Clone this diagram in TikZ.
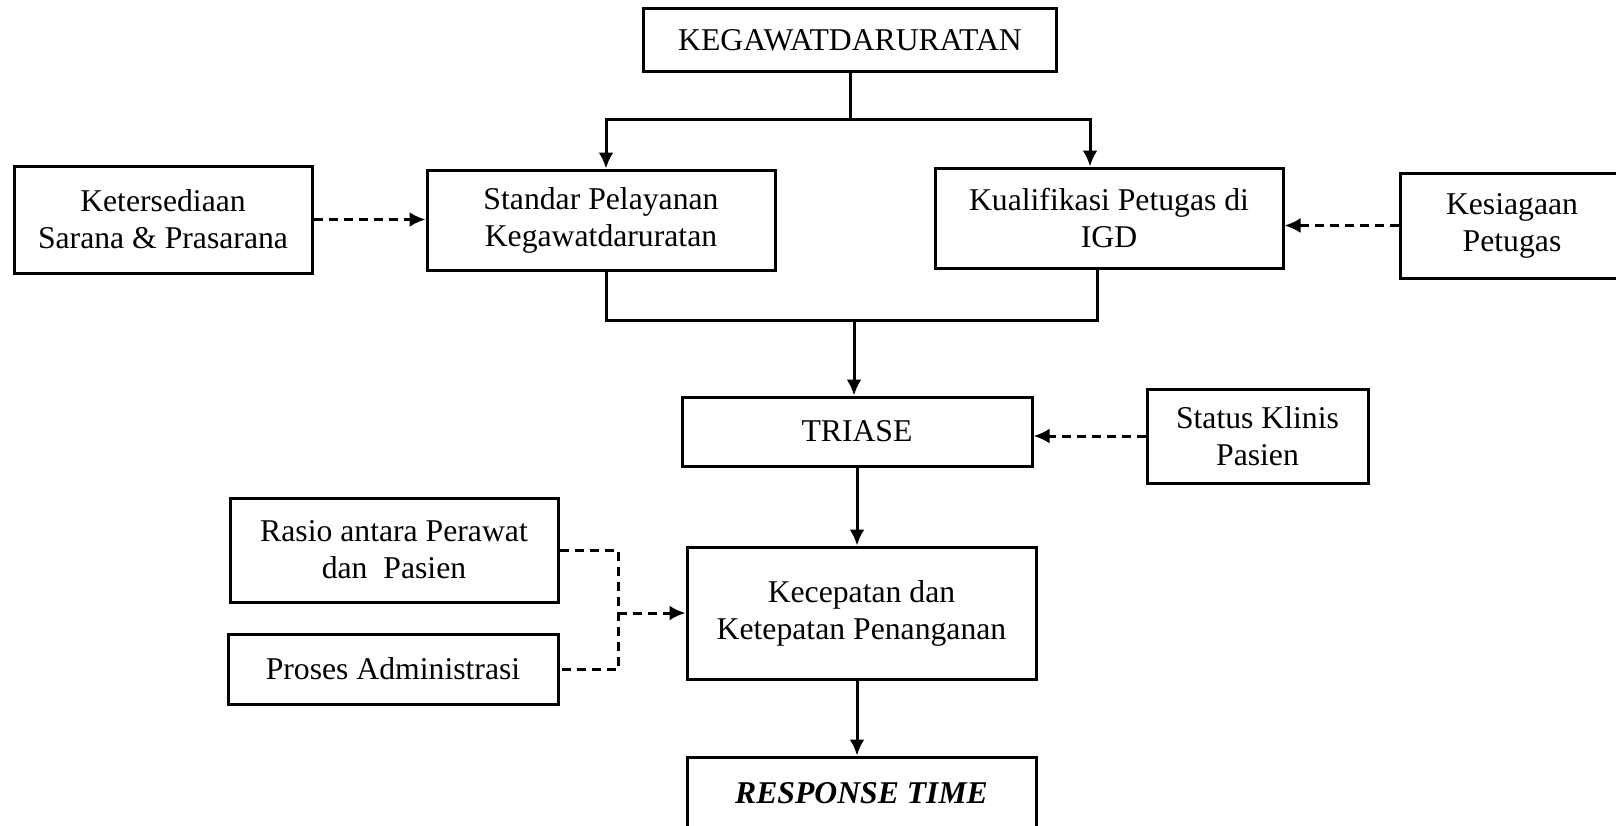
\documentclass[tikz,border=0pt]{standalone}
\usepackage{fontspec}
\setmainfont{Liberation Serif}
\usetikzlibrary{arrows.meta}

\begin{document}
\begin{tikzpicture}[x=0.5pt,y=-0.5pt,>={Latex[length=8pt,width=7.5pt]},line width=1.5pt,
	box/.style 2 args={draw,line width=1.5pt,align=center,inner sep=2pt,font=\fontsize{15.85}{18.5}\selectfont,minimum width=#1*0.5pt,minimum height=#2*0.5pt},
	dsh/.style={dash pattern=on 4.5pt off 3pt}]
	\useasboundingbox (0,0) rectangle (1616,825);
	\node [box={413}{63}] at (850,40) (kgd) {KEGAWATDARURATAN};
	\node [box={298}{107}] at (163,219.5) (sarana) {Ketersediaan\\Sarana \& Prasarana};
	\node [box={348}{100}] at (601,220) (standar) {Standar Pelayanan\\Kegawatdaruratan};
	\node [box={348}{100}] at (1109,218) (kualif) {Kualifikasi Petugas di\\IGD};
	\node [box={224}{105}] at (1512,225.5) (siaga) {Kesiagaan\\Petugas};
	\node [box={350}{69}] at (857,431.5) (triase) {TRIASE};
	\node [box={221}{94}] at (1257.5,436) (klinis) {Status Klinis\\Pasien};
	\node [box={328}{104}] at (394,550) (rasio) {Rasio antara Perawat\\dan\ \ Pasien};
	\node [box={330}{70}] at (393,669) (admin) {Proses Administrasi};
	\node [box={349}{132}] at (861.5,613) (cepat) {Kecepatan dan\\Ketepatan Penanganan};
	\node [box={349}{72}] at (861.5,793) (rt) {\textbf{\textit{RESPONSE TIME}}};

	\coordinate (cabang) at (850,119);
	\coordinate (gabung) at (854,320);
	\coordinate (titik) at (618,613);

	% cabang atas
	\draw (kgd) -- (cabang);
	\draw[->] (cabang) -| ([xshift=2.5pt]standar.north);
	\draw[->] (cabang) -| ([xshift=-9.5pt]kualif.north);
	% gabung ke triase
	\draw ([xshift=2.5pt]standar.south) |- (gabung);
	\draw ([xshift=-6pt]kualif.south) |- (gabung);
	\draw[->] (gabung) -- (gabung |- triase.north);
	\draw[->] (triase.south) -- (triase.south |- cepat.north);
	\draw[->] (cepat.south -| triase.south) -- (triase.south |- rt.north);

	% faktor pengaruh
	\draw[->,dsh] (sarana) -- (sarana.east -| standar.west);
	\draw[->,dsh] (siaga.west) -- (siaga.west -| kualif.east);
	\draw[->,dsh] (klinis.west) -- (klinis.west -| triase.east);
	\draw[dsh] (rasio.east) -| (titik) |- (admin.east);
	\draw[->,dsh] (titik) -- (cepat.west);
\end{tikzpicture}
\end{document}
